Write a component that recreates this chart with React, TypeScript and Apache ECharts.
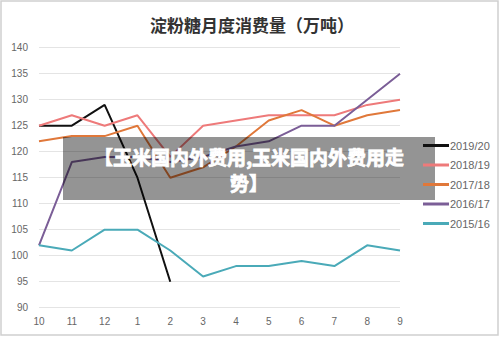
import React, { useEffect, useRef } from "react";
import * as echarts from "echarts";

const months = ["10", "11", "12", "1", "2", "3", "4", "5", "6", "7", "8", "9"];
const s2019 = [125, 125, 129, 115, 95, null, null, null, null, null, null, null];
const s2018 = [125, 127, 125, 127, 119, 125, 126, 127, 127, 127, 129, 130];
const s2017 = [122, 123, 123, 125, 115, 117, 121, 126, 128, 125, 127, 128];
const s2016 = [102, 118, 119, 119, 118, 119, 121, 122, 125, 125, 130, 135];
const s2015 = [102, 101, 105, 105, 101, 96, 98, 98, 99, 98, 102, 101];

const seriesNames = ["2019/20", "2018/19", "2017/18", "2016/17", "2015/16"];
const seriesData = [s2019, s2018, s2017, s2016, s2015];
const colors = ["#111111", "#EE7A7A", "#E0783A", "#7B5E97", "#4AAAB8"];

const bannerLine1 = "【玉米国内外费用,玉米国内外费用走";
const bannerLine2 = "势】";

export default function App() {
  const ref = useRef<HTMLDivElement>(null);
  useEffect(() => {
    if (!ref.current) return;
    const chart = echarts.init(ref.current, null, { renderer: "svg" });
    chart.setOption({
      animation: false,
      backgroundColor: "#ffffff",
      title: {
        text: "淀粉糖月度消费量（万吨）",
        left: 247,
        textAlign: "center",
        top: 11,
        textStyle: {
          fontFamily: "Noto Sans CJK SC",
          fontSize: 17,
          fontWeight: "bold",
          color: "#333333",
        },
      },
      grid: { left: 39, right: 100, top: 47.7, bottom: 29.3 },
      legend: {
        orient: "vertical",
        left: 418,
        top: 135,
        itemWidth: 26,
        itemHeight: 3,
        itemGap: 8.5,
        icon: "rect",
        z: 200,
        textStyle: { color: "#666666", fontSize: 11, fontFamily: "Liberation Sans", padding: [0, 0, 0, -4] },
        data: seriesNames,
      },
      xAxis: {
        type: "category",
        data: months,
        boundaryGap: false,
        axisLine: { show: false },
        axisTick: { show: false },
        axisLabel: { color: "#666666", fontSize: 10, margin: 9, fontFamily: "Liberation Sans" },
      },
      yAxis: {
        type: "value",
        min: 90,
        max: 140,
        interval: 5,
        axisLine: { show: false },
        axisTick: { show: false },
        axisLabel: { color: "#666666", fontSize: 10, margin: 11, fontFamily: "Liberation Sans" },
        splitLine: { lineStyle: { color: "#e4e4e4", width: 1 } },
      },
      series: seriesNames.map((name, i) => ({
        name,
        type: "line",
        data: seriesData[i],
        showSymbol: false,
        symbol: "none",
        connectNulls: false,
        z: 2,
        lineStyle: { color: colors[i], width: 2 },
        itemStyle: { color: colors[i] },
      })),
      graphic: {
        z: 100,
        elements: [
          {
            type: "rect",
            shape: { x: 1, y: 1, width: 497, height: 334 },
            style: { fill: "none", stroke: "#d0d0d0", lineWidth: 1.5 },
            z: 100,
          },
          {
            type: "rect",
            shape: { x: 63, y: 137, width: 372, height: 63 },
            style: { fill: "rgba(0,0,0,0.42)" },
            z: 100,
          },
          {
            type: "text",
            x: 249,
            y: 156,
            z: 101,
            style: {
              text: bannerLine1,
              fill: "#ffffff",
              stroke: "#ffffff",
              lineWidth: 0.8,
              font: "bold 19px 'Noto Sans CJK SC'",
              lineHeight: 21,
              align: "center",
              verticalAlign: "middle",
            },
          },
          {
            type: "text",
            x: 249,
            y: 182,
            z: 101,
            style: {
              text: bannerLine2,
              fill: "#ffffff",
              stroke: "#ffffff",
              lineWidth: 0.8,
              font: "bold 19px 'Noto Sans CJK SC'",
              lineHeight: 21,
              align: "center",
              verticalAlign: "middle",
            },
          },
        ],
      },
    });
    return () => chart.dispose();
  }, []);
  return <div ref={ref} style={{ width: 500, height: 337, position: "absolute", left: 0, top: 0 }} />;
}
